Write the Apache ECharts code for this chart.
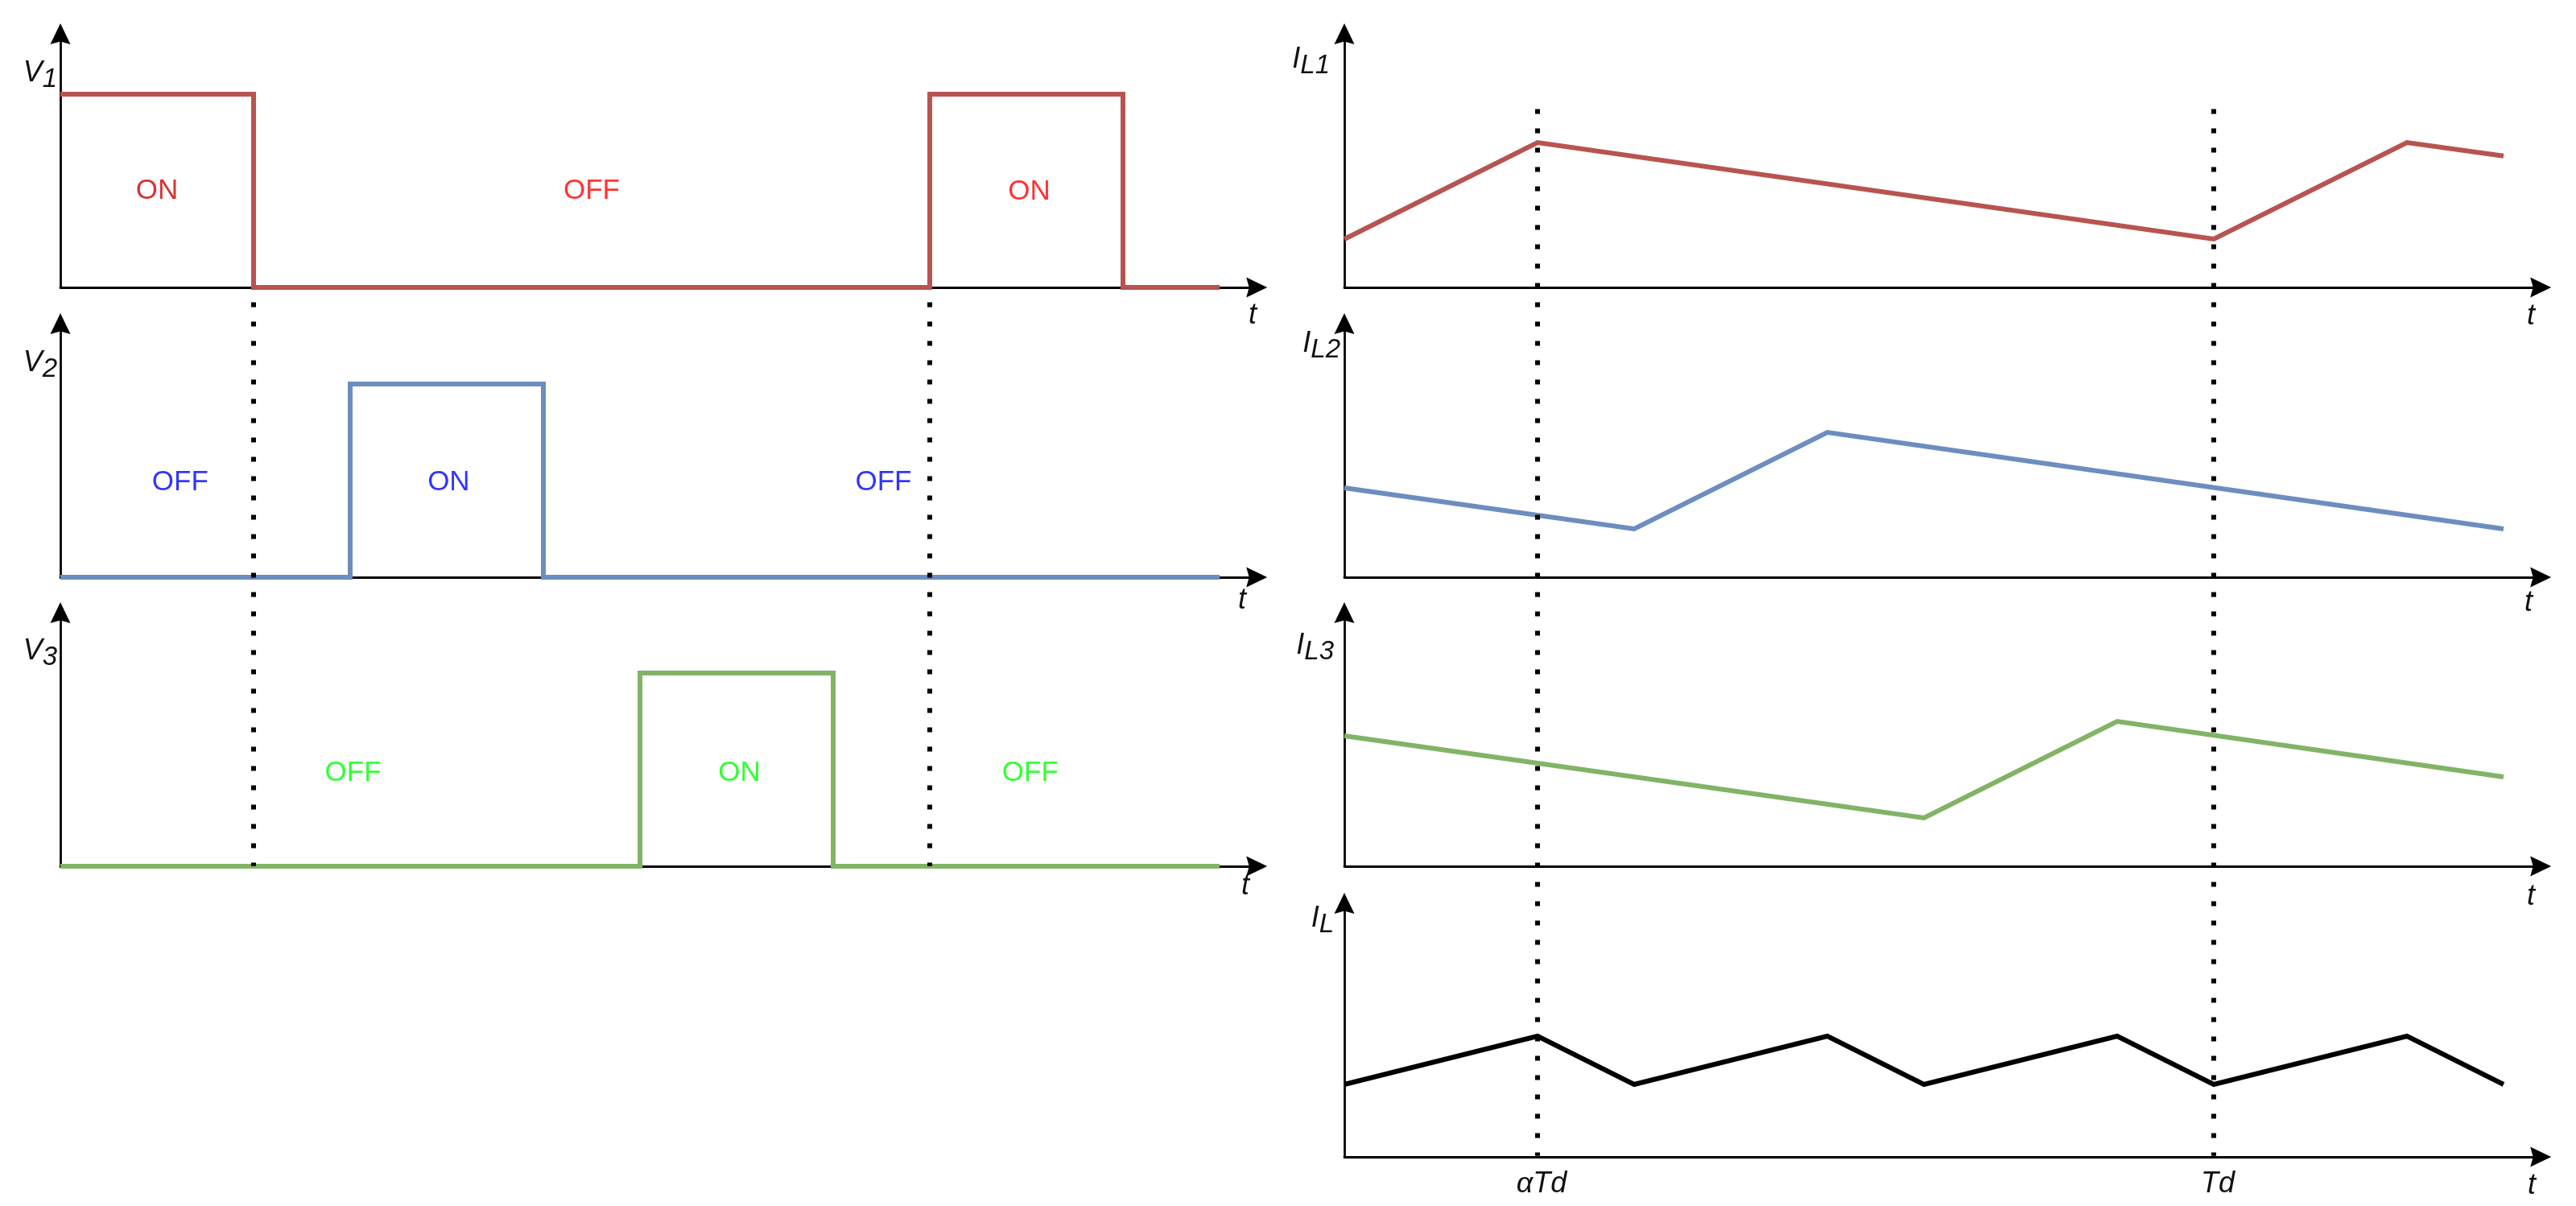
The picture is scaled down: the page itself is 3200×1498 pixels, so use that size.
<!DOCTYPE html>
<html><head><meta charset="utf-8">
<style>html,body{margin:0;padding:0;background:#fff}#c{width:3200px;height:1498px}</style>
<script src="https://cdn.jsdelivr.net/npm/echarts@6/dist/echarts.min.js"></script>
</head><body><div id="c"></div>
<script>
// ---- data (time in switching units, level in the same drawing units) ----
const v1 = [[0,2],[2,2],[2,0],[9,0],[9,2],[11,2],[11,0],[12,0]];
const v2 = [[0,0],[3,0],[3,2],[5,2],[5,0],[12,0]];
const v3 = [[0,0],[6,0],[6,2],[8,2],[8,0],[12,0]];
const iL1 = [[0,0.5],[2,1.5],[9,0.5],[11,1.5],[12,1.36]];
const iL2 = [[0,0.925],[3,0.5],[5,1.5],[12,0.5]];
const iL3 = [[0,1.35],[6,0.5],[8,1.5],[12,0.925]];
const iL  = [[0,0.75],[2,1.25],[3,0.75],[5,1.25],[6,0.75],[8,1.25],[9,0.75],[11,1.25],[12,0.75]];
const notesV1 = [[1.0,1.0,'ON'],[5.5,1.0,'OFF'],[10.03,0.99,'ON']];
const notesV2 = [[1.24,0.98,'OFF'],[4.02,0.98,'ON'],[8.52,0.98,'OFF']];
const notesV3 = [[3.03,0.96,'OFF'],[7.03,0.96,'ON'],[10.04,0.96,'OFF']];
const guideLeftT1 = [[2,8.846],[2,3.01]];
const guideLeftT2 = [[9,8.846],[9,3.01]];
const guideRightT1 = [[2,10.846],[2,0.01]];
const guideRightT2 = [[9,10.846],[9,0.01]];
const timeTickValues = [2,9];
const timeTickLabels = ['αTd','Td'];

// ---- layout & style ----
const UNIT = 120, LEFT_X = 75, RIGHT_X = 1670, X_MAX = 12.385, Y_MAX = 2.625, W = X_MAX*UNIT, H = Y_MAX*UNIT, BOTTOM_Y = 1437;
const RED='#b85450', BLUE='#6c8ebf', GREEN='#82b366', BLACK='#000000';
const FONT='"Liberation Sans", Arial, sans-serif';
const ARROW='path://M0,26 L12.5,0 L25,26 L12.5,22.5 Z';
const panels = [
  {x:LEFT_X, base:357,  data:v1,  color:RED,   name:'{m|V}{s|1}',   capAbove:285, padR:4,  tx:1556, ty:376,  notes:notesV1, noteColor:['#cc0000','#ff0000','#ff0000']},
  {x:LEFT_X, base:717,  data:v2,  color:BLUE,  name:'{m|V}{s|2}',   capAbove:285, padR:4,  tx:1543, ty:730,  notes:notesV2, noteColor:['#0000ff','#0000ff','#0000ff']},
  {x:LEFT_X, base:1076, data:v3,  color:GREEN, name:'{m|V}{s|3}',   capAbove:286, padR:4,  tx:1547, ty:1085, notes:notesV3, noteColor:['#00ff00','#00ff00','#00ff00']},
  {x:RIGHT_X,base:357,  data:iL1, color:RED,   name:'{m|I}{s|L1}',  capAbove:302, padR:18, tx:3144, ty:377},
  {x:RIGHT_X,base:717,  data:iL2, color:BLUE,  name:'{m|I}{s|L2}',  capAbove:309, padR:5,  tx:3141, ty:733},
  {x:RIGHT_X,base:1076, data:iL3, color:GREEN, name:'{m|I}{s|L3}',  capAbove:293, padR:13, tx:3144, ty:1098},
  {x:RIGHT_X,base:1437, data:iL,  color:BLACK, name:'{m|I}{s|L}',   capAbove:315, padR:13, tx:3145, ty:1457, ticks:true}
];
const axisLine = {show:true,onZero:false,symbol:['none',ARROW],symbolSize:[25,26],lineStyle:{color:'#000',width:2.8}};
const rich = {
  m:{fontFamily:FONT,fontStyle:'italic',fontSize:36,lineHeight:36,verticalAlign:'top',color:'#111'},
  s:{fontFamily:FONT,fontStyle:'italic',fontSize:33,lineHeight:42,padding:[9,0,0,0],verticalAlign:'bottom',color:'#111'}
};

const grid=[],xAxis=[],yAxis=[],series=[];
panels.forEach((p,i)=>{
  grid.push({left:p.x,top:p.base-H,width:W,height:H,containLabel:false});
  xAxis.push({type:'value',gridIndex:i,min:0,max:X_MAX,axisLine,axisTick:{show:false},splitLine:{show:false},
    name:'t',nameLocation:'end',nameGap:p.tx-(p.x+W),nameMoveOverlap:false,
    nameTextStyle:{fontFamily:FONT,fontStyle:'italic',fontSize:36,lineHeight:36,color:'#111',align:'center',verticalAlign:'top',padding:[p.ty-p.base-2,0,0,0]},
    axisLabel:p.ticks?{show:true,customValues:timeTickValues,margin:16,padding:[0,0,0,10],fontFamily:FONT,fontStyle:'italic',fontSize:36,color:'#111',hideOverlap:false,
      formatter:v=>timeTickLabels[timeTickValues.indexOf(v)]||''}:{show:false}});
  yAxis.push({type:'value',gridIndex:i,min:0,max:Y_MAX,axisLine,axisTick:{show:false},splitLine:{show:false},axisLabel:{show:false},
    name:p.name,nameLocation:'end',nameGap:-(H-p.capAbove)-1,nameMoveOverlap:false,
    nameTextStyle:{align:'right',verticalAlign:'top',padding:[0,p.padR,0,0],rich}});
  series.push({type:'line',xAxisIndex:i,yAxisIndex:i,data:p.data,symbol:'none',clip:false,silent:true,
    lineStyle:{color:p.color,width:6,join:'miter',cap:'butt'}});
  if(p.notes) series.push({type:'scatter',xAxisIndex:i,yAxisIndex:i,symbolSize:0,silent:true,
    data:p.notes.map((n,k)=>({value:[n[0],n[1]],name:n[2],label:{color:p.noteColor[k]}})),
    label:{show:true,position:'inside',formatter:'{b}',fontFamily:FONT,fontSize:35}});
});
// overlay grids carrying the long dotted guides across panels
[LEFT_X,RIGHT_X].forEach((x,j)=>{
  const i=panels.length+j;
  grid.push({left:x,top:0,width:W,height:BOTTOM_Y});
  xAxis.push({type:'value',gridIndex:i,min:0,max:X_MAX,show:false});
  yAxis.push({type:'value',gridIndex:i,min:0,max:BOTTOM_Y/UNIT,show:false});
  (j===0?[guideLeftT1,guideLeftT2]:[guideRightT1,guideRightT2]).forEach(d=>{
    series.push({type:'line',xAxisIndex:i,yAxisIndex:i,data:d,symbol:'none',clip:false,silent:true,z:5,
      lineStyle:{color:'#000',width:6,type:[6,18],cap:'butt'}});
  });
});
const chart=echarts.init(document.getElementById('c'),null,{renderer:'canvas'});
chart.setOption({backgroundColor:'#fff',animation:false,grid,xAxis,yAxis,series});
</script></body></html>
